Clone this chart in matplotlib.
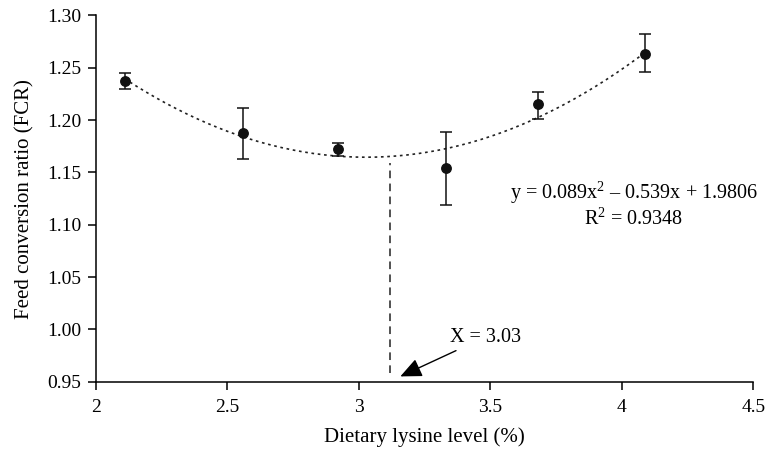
import matplotlib
matplotlib.use("Agg")
import matplotlib.pyplot as plt
import numpy as np

plt.rcParams['font.family'] = ['Liberation Serif', 'DejaVu Serif']
plt.rcParams['mathtext.fontset'] = 'custom'
plt.rcParams['mathtext.rm'] = 'Liberation Serif'
plt.rcParams['mathtext.it'] = 'Liberation Serif:italic'
plt.rcParams['mathtext.bf'] = 'Liberation Serif:bold'

lysine = [2.11, 2.56, 2.92, 3.33, 3.68, 4.09]
fcr = [1.237, 1.188, 1.172, 1.154, 1.215, 1.263]
err_low = [0.007, 0.025, 0.006, 0.035, 0.014, 0.017]
err_high = [0.008, 0.024, 0.006, 0.035, 0.012, 0.019]
coef = [0.089, -0.539, 1.9806]
x_opt_line = 3.12
eq_text = "y = 0.089x$^{\\mathrm{2}}$ \u2013 0.539x + 1.9806\nR$^{\\mathrm{2}}$ = 0.9348"
arrow_text = "X = 3.03"

fig = plt.figure(figsize=(7.67, 4.53), dpi=100)
ax = fig.add_axes([0.1248, 0.1575, 0.8574, 0.8083])

xs = np.linspace(lysine[0], lysine[-1], 200)
ax.plot(xs, np.polyval(coef, xs), color='#222222', lw=1.2, linestyle=(0, (1.6, 2.2)))

ax.errorbar(lysine, fcr, yerr=[err_low, err_high], fmt='o', color='#111111',
            markersize=6.8, capsize=4.5, elinewidth=1.1, capthick=1.1, zorder=3)

ax.plot([x_opt_line, x_opt_line], [0.958, 1.159], color='#222222', lw=1.1,
        linestyle=(0, (5, 3.5)))

ax.annotate(arrow_text, xy=(3.158, 0.955), xytext=(3.345, 0.9925),
            fontsize=14.5, va='center', ha='left',
            arrowprops=dict(arrowstyle='-|>,head_length=0.9,head_width=0.4',
                            color='black', lw=1.0, shrinkA=2, shrinkB=0))

ax.text(4.046, 1.119, eq_text, ha='center', va='center', fontsize=14.5,
        linespacing=1.15)

ax.set_xlim(2, 4.5)
ax.set_ylim(0.95, 1.30)
ax.set_xticks([2, 2.5, 3, 3.5, 4, 4.5])
ax.set_xticklabels(['2', '2.5', '3', '3.5', '4', '4.5'])
ax.set_yticks(np.arange(0.95, 1.301, 0.05))
ax.set_yticklabels([f"{v:.2f}" for v in np.arange(0.95, 1.301, 0.05)])
ax.spines['top'].set_visible(False)
ax.spines['right'].set_visible(False)
for s in ['left', 'bottom']:
    ax.spines[s].set_linewidth(1.1)
ax.tick_params(direction='out', length=5.5, width=1.1, labelsize=14)
ax.tick_params(axis='x', pad=7)
ax.tick_params(axis='y', pad=5)
ax.set_xlabel("Dietary lysine level (%)", fontsize=15, labelpad=8)
ax.set_ylabel("Feed conversion ratio (FCR)", fontsize=15, labelpad=9)

fig.savefig("out.png", dpi=100)
